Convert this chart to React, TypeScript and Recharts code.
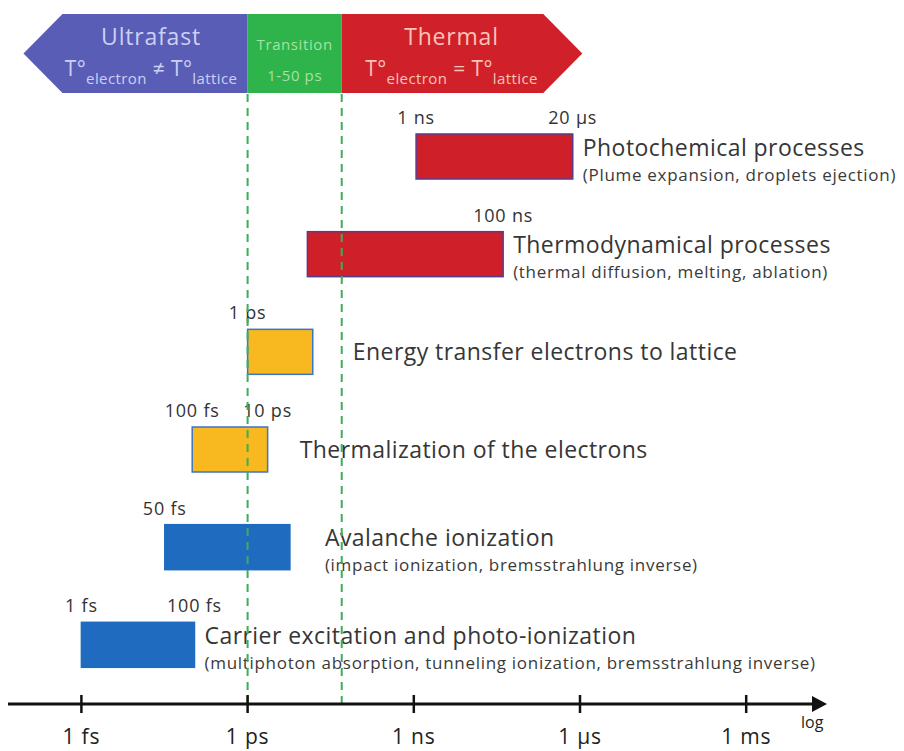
import { ComposedChart, Bar, XAxis, YAxis, ReferenceLine, ReferenceArea } from "recharts";

// process rows, top to bottom
const processes = [
  "Photochemical processes",
  "Thermodynamical processes",
  "Energy transfer electrons to lattice",
  "Thermalization of the electrons",
  "Avalanche ionization",
  "Carrier excitation and photo-ionization",
];
const details = [
  "(Plume expansion, droplets ejection)",
  "(thermal diffusion, melting, ablation)",
  "",
  "",
  "(impact ionization, bremsstrahlung inverse)",
  "(multiphoton absorption, tunneling ionization, bremsstrahlung inverse)",
];
// time spans in femtoseconds (log axis)
const startFs = [1.1e6, 1.2e4, 1e3, 1e2, 32, 1];
const endFs = [7.4e8, 4.1e7, 1.5e4, 2.3e3, 5.8e3, 1.1e2];
const startLabels = ["1 ns", "", "1 ps", "100 fs", "50 fs", "1 fs"];
const endLabels = ["20 µs", "100 ns", "", "10 ps", "", "100 fs"];

// regimes shown in the banner
const phaseNames = ["Ultrafast", "Transition", "Thermal"];
const phaseSub = ["≠", "1-50 ps", "="];
const phaseFrom = [0.09, 1e3, 5e4];
const phaseTo = [1e3, 5e4, 1.1e9];

const tickValues = [1, 1e3, 1e6, 1e9, 1e12];
const tickLabels = ["1 fs", "1 ps", "1 ns", "1 µs", "1 ms"];

// styles
const FONT = "'Open Sans', 'DejaVu Sans', sans-serif";
const BLUE = "#1f6bbf";
const RED = "#cf1f29";
const YELLOW = "#f7b91f";
const rowFill = [RED, RED, YELLOW, YELLOW, BLUE, BLUE];
const rowStroke = ["#5a3a8c", "#5a3a8c", "#3d74c4", "#3d74c4", BLUE, BLUE];
const textGap = [10, 10, 40, 32, 35, 10];
const phaseFill = ["#5a5db6", "#2fb44c", "#d0212a"];
const phaseText = ["#cdd0f4", "#a6e2a4", "#f7c4b6"];
const BANNER_TOP = 14;
const BANNER_BOTTOM = 93;
const TIP = 39;

const rows = processes.map((name, i) => ({
  name,
  range: [startFs[i], endFs[i]],
  detail: details[i],
  startLabel: startLabels[i],
  endLabel: endLabels[i],
  idx: i,
}));

const BarShape = (props: any) => {
  const { x, y, width, height, payload } = props;
  const i = payload.idx;
  const left = Math.min(x, x + width);
  const w = Math.abs(width);
  const right = left + w;
  const cy = y + height / 2;
  const tx = right + textGap[i];
  return (
    <g fontFamily={FONT}>
      <rect x={left} y={y} width={w} height={height} fill={rowFill[i]} stroke={rowStroke[i]} strokeWidth={1.5} />
      {payload.startLabel && (
        <text x={left} y={y - 10} textAnchor="middle" fontSize={18} letterSpacing={0.8} fill="#333">
          {payload.startLabel}
        </text>
      )}
      {payload.endLabel && (
        <text x={right} y={y - 10} textAnchor="middle" fontSize={18} letterSpacing={0.8} fill="#333">
          {payload.endLabel}
        </text>
      )}
      <text x={tx} y={payload.detail ? cy - 1 : cy + 8} fontSize={23} letterSpacing={0.45} fill="#363636">
        {payload.name}
      </text>
      {payload.detail && (
        <text x={tx} y={cy + 24} fontSize={17} letterSpacing={0.7} fill="#3a3a3a">
          {payload.detail}
        </text>
      )}
    </g>
  );
};

const PhaseShape = (i: number) => (props: any) => {
  const { x, width } = props;
  const x0 = x;
  const x1 = x + width;
  const ym = (BANNER_TOP + BANNER_BOTTOM) / 2;
  let points = "";
  let cx = (x0 + x1) / 2;
  if (i === 0) {
    points = `${x0},${ym} ${x0 + TIP},${BANNER_TOP} ${x1},${BANNER_TOP} ${x1},${BANNER_BOTTOM} ${x0 + TIP},${BANNER_BOTTOM}`;
    cx = (x0 + TIP + x1) / 2 - 4;
  } else if (i === 2) {
    points = `${x0},${BANNER_TOP} ${x1 - TIP},${BANNER_TOP} ${x1},${ym} ${x1 - TIP},${BANNER_BOTTOM} ${x0},${BANNER_BOTTOM}`;
    cx = (x0 + x1 - TIP) / 2 + 9;
  } else {
    points = `${x0},${BANNER_TOP} ${x1},${BANNER_TOP} ${x1},${BANNER_BOTTOM} ${x0},${BANNER_BOTTOM}`;
  }
  return (
    <g fontFamily={FONT}>
      <polygon points={points} fill={phaseFill[i]} />
      {i === 1 ? (
        <>
          <text x={cx} y={50} textAnchor="middle" fontSize={15} letterSpacing={0.6} fill={phaseText[i]}>
            {phaseNames[i]}
          </text>
          <text x={cx} y={81} textAnchor="middle" fontSize={15} letterSpacing={0.6} fill={phaseText[i]}>
            {phaseSub[i]}
          </text>
        </>
      ) : (
        <>
          <text x={cx} y={45} textAnchor="middle" fontSize={23} letterSpacing={0.8} fill={phaseText[i]}>
            {phaseNames[i]}
          </text>
          <text x={cx} y={76} textAnchor="middle" fontSize={21} letterSpacing={0.4} fill={phaseText[i]}>
            <tspan>T°</tspan>
            <tspan dy={8} fontSize={15}>electron</tspan>
            <tspan dy={-8}>{` ${phaseSub[i]} T°`}</tspan>
            <tspan dy={8} fontSize={15}>lattice</tspan>
          </text>
        </>
      )}
    </g>
  );
};

const AxisTick = (props: any) => {
  const { x, y, payload } = props;
  const k = tickValues.indexOf(payload.value);
  const ay = y - 8;
  return (
    <g>
      <line x1={x} x2={x} y1={ay - 9} y2={ay + 9} stroke="#111" strokeWidth={2.5} />
      <text x={x} y={ay + 40} textAnchor="middle" fontSize={21} letterSpacing={0.8} fontFamily={FONT} fill="#222">
        {tickLabels[k]}
      </text>
    </g>
  );
};

const AxisArrow = (props: any) => {
  const { viewBox } = props;
  const y = viewBox.y;
  return (
    <g>
      <line x1={8} x2={816} y1={y} y2={y} stroke="#111" strokeWidth={3} />
      <polygon points={`${812},${y - 8} ${827},${y} ${812},${y + 8}`} fill="#111" />
      <text x={801} y={y + 24} fontSize={16} fontFamily={FONT} fill="#222">
        log
      </text>
    </g>
  );
};

export default function App() {
  return (
    <div style={{ position: "absolute", left: 0, top: 0, width: 904, height: 751, background: "#fff" }}>
      <ComposedChart
        width={904}
        height={751}
        data={rows}
        layout="vertical"
        margin={{ top: 92, right: 47, bottom: 7, left: 26 }}
        barSize={45}
      >
        <XAxis
          type="number"
          scale="log"
          domain={[0.1, 1e14]}
          ticks={tickValues}
          interval={0}
          axisLine={false}
          tickLine={false}
          height={40}
          tick={AxisTick}
          label={{ content: AxisArrow }}
        />
        <YAxis type="category" dataKey="name" hide width={0} padding={{ top: 16, bottom: 10 }} />
        {phaseNames.map((p, i) => (
          <ReferenceArea
            key={p}
            x1={phaseFrom[i]}
            x2={phaseTo[i]}
            ifOverflow="visible"
            shape={PhaseShape(i)}
          />
        ))}
        <Bar dataKey="range" isAnimationActive={false} shape={BarShape} />
        <ReferenceLine x={phaseFrom[1]} stroke="#3aae5c" strokeWidth={2} strokeDasharray="8 6" ifOverflow="visible" />
        <ReferenceLine x={phaseTo[1]} stroke="#3aae5c" strokeWidth={2} strokeDasharray="8 6" ifOverflow="visible" />
      </ComposedChart>
    </div>
  );
}
